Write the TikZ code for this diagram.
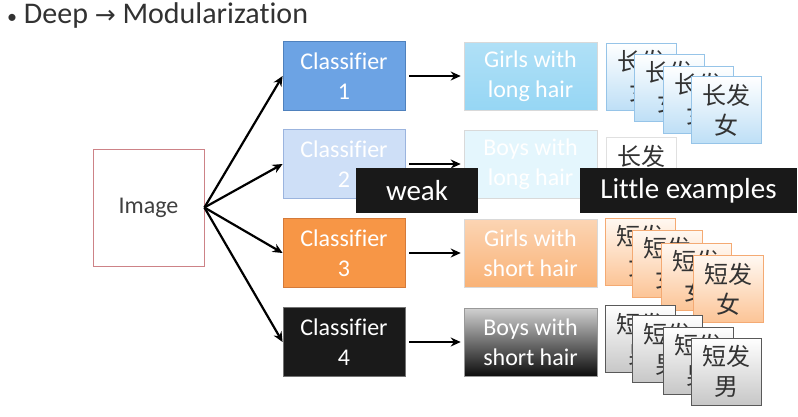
\documentclass[tikz,border=0pt]{standalone}
\usepackage{fontspec}
\setmainfont{Carlito}[Ligatures=NoCommon]
\newfontfamily\cjk{Noto Sans CJK SC}
\newfontfamily\symb{DejaVu Sans}
\usetikzlibrary{arrows.meta}

\definecolor{titlegray}{RGB}{50,50,50}
\definecolor{imgline}{RGB}{205,130,135}
\definecolor{clsone}{RGB}{108,163,228}
\definecolor{clsoneline}{RGB}{79,129,189}
\definecolor{clstwo}{RGB}{206,223,247}
\definecolor{clstwoline}{RGB}{155,180,222}
\definecolor{clsthree}{RGB}{247,150,70}
\definecolor{clsthreeline}{RGB}{212,122,58}
\definecolor{clsfour}{RGB}{26,26,26}
\definecolor{labone}{RGB}{150,214,244}
\definecolor{labtwo}{RGB}{228,246,253}
\definecolor{labthree}{RGB}{249,178,118}
\definecolor{cardblue}{RGB}{190,223,246}
\definecolor{cardblueline}{RGB}{150,196,232}
\definecolor{cardorange}{RGB}{252,196,150}
\definecolor{cardorangeline}{RGB}{244,170,115}

\begin{document}
\begin{tikzpicture}[x=1pt, y=-1pt]
  \tikzset{classbox/.style = {rectangle, draw, line width=0.8pt, minimum width=122pt, minimum height=69pt, inner sep=0pt, align=center, text=white, font=\fontsize{24}{30}\selectfont}} % 분류기 상자
  \tikzset{labelbox/.style = {rectangle, draw=white!85!black, line width=0.6pt, minimum width=133pt, minimum height=68pt, inner sep=0pt, align=center, text=white, font=\fontsize{24}{30}\selectfont}}
  \tikzset{card/.style = {rectangle, draw, line width=0.8pt, minimum width=70pt, minimum height=67pt, inner sep=0pt, align=center, text=black!80, font={\cjk\fontsize{24}{30}\selectfont}}}
  \tikzset{bluecard/.style = {card, top color=white, bottom color=cardblue, draw=cardblueline}}
  \tikzset{orangecard/.style = {card, top color=orange!5, bottom color=cardorange, draw=cardorangeline}}
  \tikzset{graycard/.style = {card, top color=white, bottom color=black!22, draw=black!65}}
  \tikzset{caption/.style = {rectangle, fill=black!90, inner sep=0pt, minimum height=45pt, text=white, font=\fontsize{29}{34}\selectfont}}
  \tikzset{conn/.style = {line width=2.2pt, -{Stealth[length=10pt,width=9pt]}}}

  \useasboundingbox (0,0) rectangle (798,416);

  % 제목
  \node[anchor=west, text=titlegray, font=\fontsize{30}{36}\selectfont, inner sep=0pt] (title) at (7,15) {{\fontsize{20}{24}\selectfont\textbullet}\ Deep {\symb\fontsize{25}{30}\selectfont →} Modularization};

  % 입력과 분류기
  \node[rectangle, draw=imgline, line width=0.8pt, minimum width=111pt, minimum height=117pt, text=black!75, font=\fontsize{24}{30}\selectfont] (img) at (148.5,207.5) {Image};
  \node[classbox, fill=clsone, draw=clsoneline] (cls1) at (344,76) {Classifier\\1};
  \node[classbox, fill=clstwo, draw=clstwoline] (cls2) at (344,164) {Classifier\\2};
  \node[classbox, fill=clsthree, draw=clsthreeline] (cls3) at (344,253) {Classifier\\3};
  \node[classbox, fill=clsfour, draw=black!55] (cls4) at (344,342) {Classifier\\4};

  % 출력
  \node[labelbox, top color=labone!75, bottom color=labone] (lab1) at (530.5,76) {Girls with\\long hair};
  \node[labelbox, fill=labtwo] (lab2) at (530.5,164) {Boys with\\long hair};
  \node[labelbox, top color=labthree!55, bottom color=labthree] (lab3) at (530.5,253) {Girls with\\short hair};
  \node[labelbox, top color=black!18, bottom color=black!95, draw=black!40] (lab4) at (530.5,342) {Boys with\\short hair};

  % 예시 카드
  \node[bluecard] (ex1a) at (641,76.5) {长发\\女};
  \node[bluecard] (ex1b) at (669.5,87.5) {长发\\女};
  \node[bluecard] (ex1c) at (698,99.5) {长发\\女};
  \node[bluecard] (ex1d) at (726.5,110) {长发\\女};
  \node[card, fill=white, draw=black!12, minimum height=0pt, text height=28pt, text depth=37pt, anchor=north] (ex2a) at (641,137) {长发};
  \node[orangecard] (ex3a) at (640.5,251.5) {短发\\女};
  \node[orangecard] (ex3b) at (667.5,263.5) {短发\\女};
  \node[orangecard] (ex3c) at (696.5,276.5) {短发\\女};
  \node[orangecard] (ex3d) at (728.5,289) {短发\\女};
  \node[graycard] (ex4a) at (640.5,339) {短发\\男};
  \node[graycard] (ex4b) at (667.5,349) {短发\\男};
  \node[graycard] (ex4c) at (698,360.5) {短发\\男};
  \node[graycard] (ex4d) at (726.5,371.5) {短发\\男};

  % 화살표
  \draw[conn] (img.east) -- (cls1.west);
  \draw[conn] (img.east) -- (cls2.west);
  \draw[conn] (img.east) -- (cls3.west);
  \draw[conn] (img.east) -- (cls4.west);
  \draw[conn, shorten <=4pt, shorten >=3pt] (cls1) -- (lab1);
  \draw[conn, shorten <=4pt, shorten >=3pt] (cls2) -- (lab2);
  \draw[conn, shorten <=4pt, shorten >=3pt] (cls3) -- (lab3);
  \draw[conn, shorten <=4pt, shorten >=3pt] (cls4) -- (lab4);

  % 덧붙인 자막
  \node[caption, minimum width=122pt] (weak) at (417,190.5) {weak};
  \node[caption, minimum width=217pt] (few) at (688.5,190.5) {Little examples};
\end{tikzpicture}
\end{document}
